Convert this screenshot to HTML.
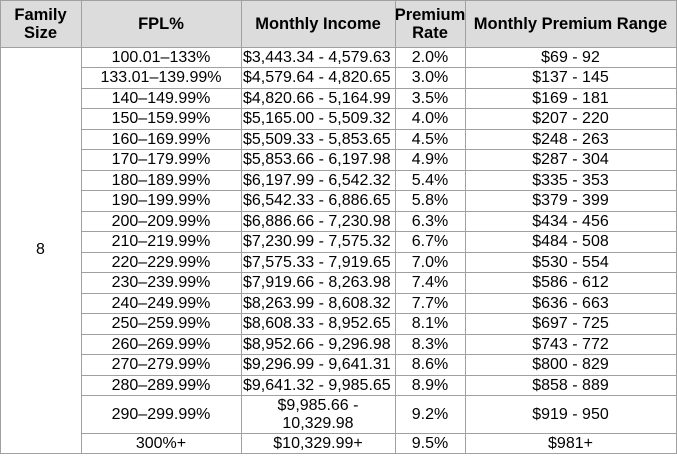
<!DOCTYPE html><html><head><style>
body{margin:0;background:#fff;width:677px;height:457px;position:relative;overflow:hidden;font-family:"Liberation Sans",Arial,sans-serif;font-size:16px;color:#000}
.c{position:absolute;display:flex;align-items:center;justify-content:center;text-align:center;line-height:18px;box-sizing:border-box;white-space:nowrap}
.l{justify-content:flex-start;padding-left:2px}
.h{font-weight:bold;font-size:16.5px;line-height:18px}
.hl{position:absolute;height:1px;background:#a0a0a0}
.vl{position:absolute;width:1px;background:#a0a0a0}
</style></head><body>
<div style="position:absolute;left:0;top:0;width:677px;height:47px;background:#dcdcdc"></div>
<div id="t"></div>
<script>
var cols=[0,81,241,395,465,676];
var rows=[["100.01–133%","$3,443.34 - 4,579.63","2.0%","$69 - 92"],["133.01–139.99%","$4,579.64 - 4,820.65","3.0%","$137 - 145"],["140–149.99%","$4,820.66 - 5,164.99","3.5%","$169 - 181"],["150–159.99%","$5,165.00 - 5,509.32","4.0%","$207 - 220"],["160–169.99%","$5,509.33 - 5,853.65","4.5%","$248 - 263"],["170–179.99%","$5,853.66 - 6,197.98","4.9%","$287 - 304"],["180–189.99%","$6,197.99 - 6,542.32","5.4%","$335 - 353"],["190–199.99%","$6,542.33 - 6,886.65","5.8%","$379 - 399"],["200–209.99%","$6,886.66 - 7,230.98","6.3%","$434 - 456"],["210–219.99%","$7,230.99 - 7,575.32","6.7%","$484 - 508"],["220–229.99%","$7,575.33 - 7,919.65","7.0%","$530 - 554"],["230–239.99%","$7,919.66 - 8,263.98","7.4%","$586 - 612"],["240–249.99%","$8,263.99 - 8,608.32","7.7%","$636 - 663"],["250–259.99%","$8,608.33 - 8,952.65","8.1%","$697 - 725"],["260–269.99%","$8,952.66 - 9,296.98","8.3%","$743 - 772"],["270–279.99%","$9,296.99 - 9,641.31","8.6%","$800 - 829"],["280–289.99%","$9,641.32 - 9,985.65","8.9%","$858 - 889"],["290–299.99%","$9,985.66 -<br>10,329.98","9.2%","$919 - 950"],["300%+","$10,329.99+","9.5%","$981+"]];
var ys=[47];for(var i=1;i<=17;i++)ys.push(Math.round(47+i*20.47));ys.push(433);ys.push(453);
var h='';
function cell(x0,x1,y0,y1,txt,cls){h+='<div class="c '+(cls||'')+'" style="left:'+x0+'px;top:'+y0+'px;width:'+(x1-x0)+'px;height:'+(y1-y0)+'px">'+txt+'</div>';}
var hd=["Family<br>Size","FPL%","Monthly Income","Premium<br>Rate","Monthly Premium Range"];
for(var c=0;c<5;c++)cell(cols[c],cols[c+1],0,47,hd[c],'h');
cell(0,81,47,453,"8");
for(var r=0;r<rows.length;r++){for(var c=0;c<4;c++){var cl=(c==1&&r!=17&&r!=18)?'l':'';cell(cols[c+1],cols[c+2],ys[r]+1,ys[r+1],rows[r][c],cl);}}
h+='<div class="hl" style="left:0;top:0;width:677px"></div>';
h+='<div class="hl" style="left:0;top:47px;width:677px"></div>';
for(var i=1;i<ys.length;i++)h+='<div class="hl" style="left:81px;top:'+ys[i]+'px;width:596px"></div>';
h+='<div class="hl" style="left:0;top:453px;width:677px"></div>';
for(var c=0;c<cols.length;c++)h+='<div class="vl" style="left:'+cols[c]+'px;top:0;height:454px"></div>';
document.getElementById('t').innerHTML=h;
</script>
</body></html>
